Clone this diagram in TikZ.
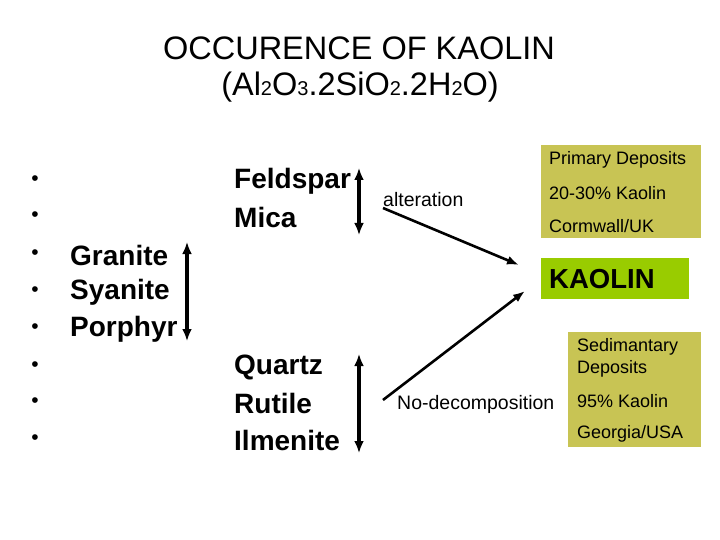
\documentclass[tikz,border=0pt]{standalone}
\usepackage{fontspec}
\setmainfont{Liberation Sans}
\usetikzlibrary{arrows.meta}
\definecolor{olivebox}{HTML}{C8C454}
\definecolor{kaogreen}{HTML}{99CC00}
\tikzset{
  mineral/.style={anchor=west,inner sep=0pt,font=\fontsize{28}{28}\selectfont\bfseries},
  small/.style={anchor=west,inner sep=0pt,font=\fontsize{18}{18}\selectfont},
  proc/.style={anchor=west,inner sep=0pt,font=\fontsize{19.5}{19.5}\selectfont},
  bul/.style={inner sep=0pt,font=\fontsize{21}{21}\selectfont},
  dbl/.style={line width=3.2pt,{Latex[length=12pt,width=10pt]}-{Latex[length=12pt,width=10pt]}},
  sgl/.style={line width=2.6pt,-{Latex[length=12pt,width=9pt]}},
  obox/.style={fill=olivebox,draw=none},
}
\newcommand{\sm}[1]{{\fontsize{20}{20}\selectfont #1}}
\begin{document}
\begin{tikzpicture}[x=1pt,y=-1pt]
\useasboundingbox[fill=white] (0,0) rectangle (720,540);
% title
\node[inner sep=0pt,font=\fontsize{32.5}{32.5}\selectfont] (t1) at (359,48) {OCCURENCE OF KAOLIN};
\node[inner sep=0pt,font=\fontsize{32.5}{32.5}\selectfont] (t2) at (360,87) {(Al\sm{2}O\sm{3}.2SiO\sm{2}.2H\sm{2}O)};
% bullets
\foreach \yy [count=\i] in {181,217,255,292,329,367,403,440}
  \node[bul] (b\i) at (35,\yy) {•};
% rocks
\node[mineral] (granite) at (70,255) {Granite};
\node[mineral] (syanite) at (70,292) {Syanite};
\node[mineral] (porphyr) at (70,329) {Porphyr};
% minerals
\node[mineral] (feldspar) at (234,181) {Feldspar};
\node[mineral] (mica) at (234,217) {Mica};
\node[mineral] (quartz) at (234,367) {Quartz};
\node[mineral] (rutile) at (234,403) {Rutile};
\node[mineral] (ilmenite) at (234,440) {Ilmenite};
% vertical arrows
\coordinate (ga) at (187,242);
\coordinate (gb) at (187,341);
\draw[dbl] (ga) -- (gb);
\coordinate (fa) at (359,168);
\coordinate (fb) at (359,235);
\draw[dbl] (fa) -- (fb);
\coordinate (qa) at (359,354);
\coordinate (qb) at (359,453);
\draw[dbl] (qa) -- (qb);
% boxes
\fill[obox] (541,145) rectangle (701,238);
\fill[kaogreen] (541,258) rectangle (689,299);
\fill[obox] (568,332) rectangle (701,447);
\node[small] (prim) at (549,160) {Primary Deposits};
\node[small] (p2) at (549,193) {20-30\% Kaolin};
\node[small] (p3) at (549,226) {Cormwall/UK};
\node[anchor=west,inner sep=0pt,font=\fontsize{27.5}{27.5}\selectfont\bfseries] (kaolin) at (549,279) {KAOLIN};
\node[small] (sed1) at (577,347) {Sedimantary};
\node[small] (sed2) at (577,369) {Deposits};
\node[small] (s2) at (577,401) {95\% Kaolin};
\node[small] (s3) at (577,434) {Georgia/USA};
% process labels and arrows
\node[proc] (alt) at (383,200) {alteration};
\node[proc] (nodec) at (397,404) {No-decomposition};
\coordinate (alts) at (383,208);
\coordinate (altt) at (519,265);
\draw[sgl] (alts) -- (altt);
\coordinate (nds) at (383,400);
\coordinate (ndt) at (525,291);
\draw[sgl] (nds) -- (ndt);
\end{tikzpicture}
\end{document}
